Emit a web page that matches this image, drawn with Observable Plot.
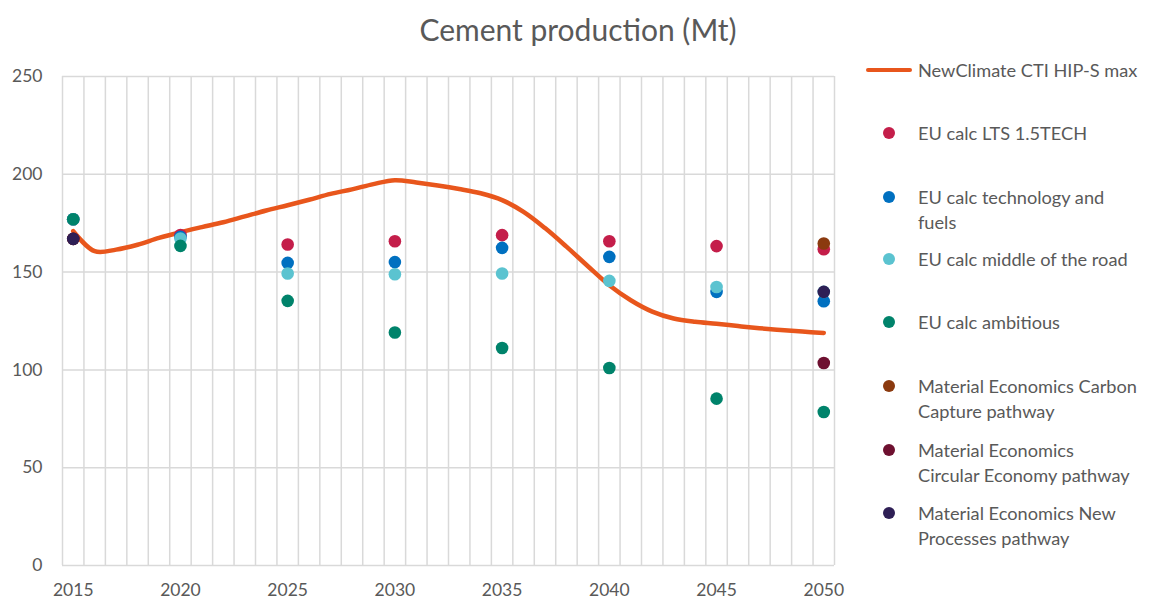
<!DOCTYPE html>
<html><head><meta charset="utf-8">
<script src="https://cdn.jsdelivr.net/npm/d3@7"></script>
<script src="https://cdn.jsdelivr.net/npm/@observablehq/plot@0.6"></script>
<style>
body{margin:0;background:#fff;font-family:Lato,"Open Sans",sans-serif;}
#wrap{position:relative;width:1149px;height:599px;overflow:hidden;background:#fff;}
#title{position:absolute;left:0;top:11px;width:1156px;text-align:center;font-size:30px;color:#595959;line-height:36px;}
#chart{position:absolute;left:0;top:0;}
.lt{position:absolute;left:918px;font-size:18.2px;color:#595959;line-height:25px;white-space:nowrap;}
.ld{position:absolute;left:883px;width:12px;height:12px;border-radius:50%;}
.ll{position:absolute;left:866px;width:46px;height:4px;border-radius:2px;}
</style></head><body>
<div id="wrap"><div id="chart"></div><div id="title">Cement production (Mt)</div></div>
<script>
// ---- data ----
const lineYears = [2015,2016,2017,2018,2019,2020,2021,2022,2023,2024,2025,2026,2027,2028,2029,2030,2031,2032,2033,2034,2035,2036,2037,2038,2039,2040,2041,2042,2043,2044,2045,2046,2047,2048,2049,2050];
const lineValues = [171,160.7,161.5,164,167.5,170.4,173,175.5,178.5,181.5,184.2,187,190,192.3,195,197,195.8,194.3,192.5,190.3,186.8,180.8,172.5,163,153,143.3,135.6,129.8,126.3,124.6,123.6,122.4,121.3,120.4,119.6,118.9];

const dotYears = [2015,2020,2025,2030,2035,2040,2045,2050];
const lts15tech   = [177,169,164.1,165.8,168.9,165.8,163.3,161.7];
const techFuels   = [177,168,154.7,155.1,162.4,157.8,139.9,135.1];
const middleRoad  = [177,167.2,149.3,148.9,149.3,145.5,142.4,139.9];
const ambitious   = [177,163.4,135.3,119.1,111.2,101,85.3,78.5];

const meYears = [2015,2050];
const carbonCapture = [167,164.6];
const circularEcon  = [167,103.5];
const newProcesses  = [167,139.9];

const seriesNames = ["NewClimate CTI HIP-S max","EU calc LTS 1.5TECH","EU calc technology and fuels","EU calc middle of the road","EU calc ambitious","Material Economics Carbon Capture pathway","Material Economics Circular Economy pathway","Material Economics New Processes pathway"];
const seriesColors = ["#e8561c","#c41e4a","#0070c0","#5bc3d0","#00836b","#8b3a0f","#6e1030","#2e1f55"];
const legendLabels = [["NewClimate CTI HIP-S max"],["EU calc LTS 1.5TECH"],["EU calc technology and","fuels"],["EU calc middle of the road"],["EU calc ambitious"],["Material Economics Carbon","Capture pathway"],["Material Economics","Circular Economy pathway"],["Material Economics New","Processes pathway"]];

const xTicks = [2015,2020,2025,2030,2035,2040,2045,2050];
const yTicks = [0,50,100,150,200,250];
const gridYears = [2014.5,2015.5,2016.5,2017.5,2018.5,2019.5,2020.5,2021.5,2022.5,2023.5,2024.5,2025.5,2026.5,2027.5,2028.5,2029.5,2030.5,2031.5,2032.5,2033.5,2034.5,2035.5,2036.5,2037.5,2038.5,2039.5,2040.5,2041.5,2042.5,2043.5,2044.5,2045.5,2046.5,2047.5,2048.5,2049.5,2050.5];

// ---- tables ----
const lineData = lineYears.map((year,i)=>({year, value: lineValues[i]}));
const dotData = [];
[[lts15tech,1],[techFuels,2],[middleRoad,3],[ambitious,4]].forEach(([vals,k])=>{
  dotYears.forEach((year,i)=>dotData.push({year, value: vals[i], series: seriesNames[k]}));
});
[[carbonCapture,5],[circularEcon,6],[newProcesses,7]].forEach(([vals,k])=>{
  meYears.forEach((year,i)=>dotData.push({year, value: vals[i], series: seriesNames[k]}));
});

const chart = Plot.plot({
  width: 850, height: 599,
  marginLeft: 62, marginRight: 16, marginTop: 76, marginBottom: 34,
  x: {domain: [2014.5, 2050.5], axis: null, label: null},
  y: {domain: [0, 250], axis: null, label: null},
  color: {domain: seriesNames.slice(1), range: seriesColors.slice(1)},
  style: {fontFamily: "Lato, sans-serif", background: "white", color: "#595959", overflow: "visible"},
  marks: [
    Plot.gridX(gridYears, {stroke: "#d9d9d9", strokeOpacity: 1, strokeWidth: 1.5}),
    Plot.gridY(yTicks, {stroke: "#d9d9d9", strokeOpacity: 1, strokeWidth: 1.5}),
    Plot.axisX(xTicks, {tickSize: 0, tickPadding: 18, tickFormat: d => String(d), fontSize: 17.5, fill: "#595959", label: null}),
    Plot.axisY(yTicks, {tickSize: 0, tickPadding: 20, fontSize: 17.5, fill: "#595959", label: null}),
    Plot.line(lineData, {x: "year", y: "value", stroke: seriesColors[0], strokeWidth: 4.5, curve: "catmull-rom"}),
    Plot.dot(dotData, {x: "year", y: "value", fill: "series", r: 6.3})
  ]
});
document.getElementById("chart").appendChild(chart);

// ---- legend (HTML) ----
const legendTops = [70,133,197,259,322,386,450,513];
const wrap = document.getElementById("wrap");
legendLabels.forEach((lines,i)=>{
  const cy = legendTops[i];
  const m = document.createElement("div");
  if (i === 0) { m.className = "ll"; m.style.top = (cy-2)+"px"; }
  else { m.className = "ld"; m.style.top = (cy-6)+"px"; }
  m.style.background = seriesColors[i];
  wrap.appendChild(m);
  const t = document.createElement("div");
  t.className = "lt";
  t.style.top = (cy-12.5)+"px";
  t.innerHTML = lines.join("<br>");
  wrap.appendChild(t);
});
</script>
</body></html>
